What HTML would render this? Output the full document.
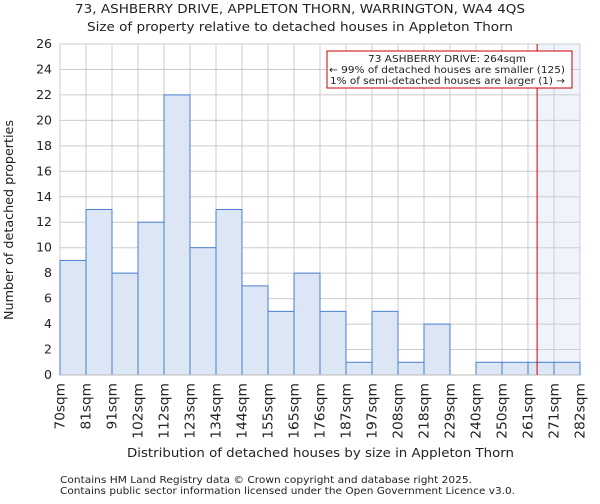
<!DOCTYPE html>
<html><head><meta charset="utf-8"><style>
body{margin:0;background:#fff;font-family:"DejaVu Sans","Liberation Sans",sans-serif;}
svg text{font-family:"DejaVu Sans","Liberation Sans",sans-serif;fill:#222;}
</style></head><body>
<svg id="chart" width="600" height="500" xmlns="http://www.w3.org/2000/svg">
<text x="75" y="13" font-size="12.5" textLength="450" lengthAdjust="spacingAndGlyphs">73, ASHBERRY DRIVE, APPLETON THORN, WARRINGTON, WA4 4QS</text>
<text x="87" y="31" font-size="12.5" textLength="426" lengthAdjust="spacingAndGlyphs">Size of property relative to detached houses in Appleton Thorn</text>
<g id="grid"></g>
<g id="bars"></g>
<g id="axes"></g>
<text x="127" y="457" font-size="12.5" textLength="387" lengthAdjust="spacingAndGlyphs">Distribution of detached houses by size in Appleton Thorn</text>
<text transform="translate(13,320) rotate(-90)" font-size="12.5" textLength="200" lengthAdjust="spacingAndGlyphs">Number of detached properties</text>
<g>
<rect x="327" y="51" width="245" height="37" fill="#fff" stroke="#cc0000" stroke-width="1"/>
<text x="368" y="62" font-size="10" textLength="158" lengthAdjust="spacingAndGlyphs">73 ASHBERRY DRIVE: 264sqm</text>
<text x="329" y="73" font-size="10" textLength="236" lengthAdjust="spacingAndGlyphs">← 99% of detached houses are smaller (125)</text>
<text x="330" y="84" font-size="10" textLength="235" lengthAdjust="spacingAndGlyphs">1% of semi-detached houses are larger (1) →</text>
</g>
<text x="60" y="483" font-size="10" textLength="412" lengthAdjust="spacingAndGlyphs">Contains HM Land Registry data © Crown copyright and database right 2025.</text>
<text x="60" y="494" font-size="10" textLength="455" lengthAdjust="spacingAndGlyphs">Contains public sector information licensed under the Open Government Licence v3.0.</text>
</svg>
<script>
const binLabels=["70sqm","81sqm","91sqm","102sqm","112sqm","123sqm","134sqm","144sqm","155sqm","165sqm","176sqm","187sqm","197sqm","208sqm","218sqm","229sqm","240sqm","250sqm","261sqm","271sqm","282sqm"];
const counts=[9,13,8,12,22,10,13,7,5,8,5,1,5,1,4,0,1,1,1,1];
const yTicks=[0,2,4,6,8,10,12,14,16,18,20,22,24,26];
const markerBin=[18.35];
const NS="http://www.w3.org/2000/svg";
const X0=60,X1=580,Y0=375,Y1=44,YMAX=26;
const bw=(X1-X0)/counts.length;
const xs=i=>X0+i*bw;
const ys=v=>Y0-(v/YMAX)*(Y0-Y1);
function mk(t,a,p){const e=document.createElementNS(NS,t);for(const k in a)e.setAttribute(k,a[k]);p.appendChild(e);return e;}
const grid=document.getElementById('grid'),bars=document.getElementById('bars'),axes=document.getElementById('axes');
const mx=xs(markerBin[0]);
const sh=mk('rect',{x:mx,y:Y1,width:X1-mx,height:Y0-Y1,fill:'#eef3fc'},grid);


yTicks.forEach(v=>{
 const l=mk('line',{x1:X0,x2:X1,y1:ys(v),y2:ys(v),stroke:'#cccccc','stroke-width':1},grid);
 
 
 const t=mk('text',{x:X0-8,y:ys(v)+4,'font-size':12.5,'text-anchor':'end'},axes);
 t.textContent=v;
 
 
});
binLabels.forEach((s,i)=>{
 const l=mk('line',{x1:xs(i),x2:xs(i),y1:Y1,y2:Y0,stroke:'#cccccc','stroke-width':1},grid);
 
 
 const t=mk('text',{x:0,y:0,'font-size':13,'text-anchor':'end',transform:`translate(${xs(i)+4.5},${Y0+8}) rotate(-90)`,textLength:s.length*9.3,lengthAdjust:'spacingAndGlyphs'},axes);
 t.textContent=s;
 
 
});
counts.forEach((c,i)=>{
 if(c<=0)return;
 const r=mk('rect',{x:xs(i),y:ys(c),width:bw,height:Y0-ys(c),fill:'#dce6f4',stroke:'#4a7fd4','stroke-width':1},bars);
 
 
});
const ax=mk('line',{x1:X0,x2:X1,y1:Y0,y2:Y0,stroke:'#bbbbbb','stroke-width':1},axes);


const ml=mk('line',{x1:mx,x2:mx,y1:Y1,y2:Y0,stroke:'#cc0000','stroke-width':1},axes);


</script>
</body></html>
